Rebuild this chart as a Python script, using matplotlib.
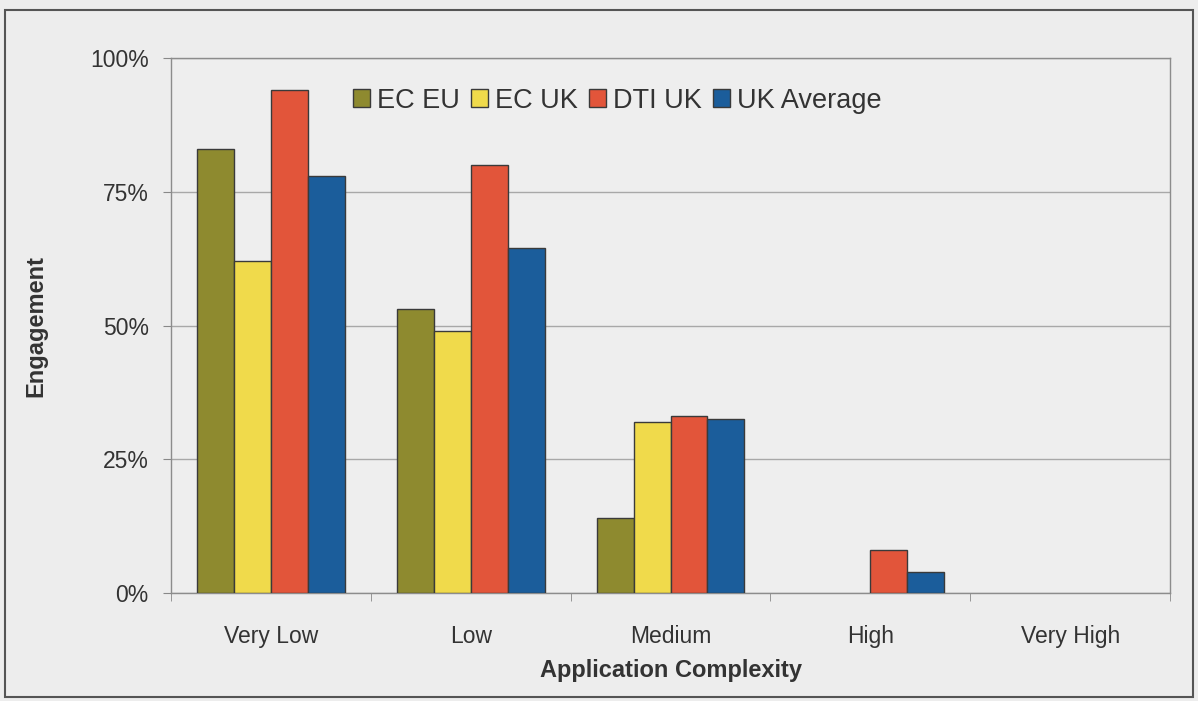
import numpy as np
import matplotlib.pyplot as plt
from matplotlib.patches import Rectangle
from matplotlib.ticker import FuncFormatter

plt.rcParams['font.family'] = ['Liberation Sans', 'DejaVu Sans']

# Engagement by application complexity (percent)
categories = ['Very Low', 'Low', 'Medium', 'High', 'Very High']
ec_eu = [83, 53, 14, 0, 0]
ec_uk = [62, 49, 32, 0, 0]
dti_uk = [94, 80, 33, 8, 0]
uk_avg = [78, 64.5, 32.5, 4, 0]

series = [('EC EU', ec_eu, '#8e8a2f'),
          ('EC UK', ec_uk, '#f0da4b'),
          ('DTI UK', dti_uk, '#e2553a'),
          ('UK Average', uk_avg, '#1b5d9b')]

fig = plt.figure(figsize=(11.98, 7.01), dpi=100, facecolor='#ededed')
ax = fig.add_axes([0.1427, 0.154, 0.834, 0.7633], facecolor='#eeeeee')

x = np.arange(len(categories))
w = 0.185
for i, (name, vals, col) in enumerate(series):
    vals = np.array(vals, dtype=float)
    ax.bar(x + (i - 1.5) * w, np.where(vals > 0, vals, np.nan), w, color=col,
           edgecolor='#3a3a3a', linewidth=1.0, label=name, zorder=3)

ax.set_xlim(-0.5, len(categories) - 0.5)
ax.set_ylim(0, 100)
ax.set_yticks([0, 25, 50, 75, 100])
ax.yaxis.set_major_formatter(FuncFormatter(lambda v, p: f'{v:.0f}%'))
ax.set_xticks(x)
ax.set_xticklabels(categories)
ax.set_xticks(np.arange(len(categories) + 1) - 0.5, minor=True)
ax.tick_params(axis='x', which='major', length=0, pad=23, labelsize=16.5, labelcolor='#333333')
ax.tick_params(axis='x', which='minor', length=6, color='#888888', direction='out')
ax.tick_params(axis='y', length=6, color='#888888', labelsize=16.5, labelcolor='#333333', pad=10)

ax.grid(axis='y', color='#a8a8a8', linewidth=1.0, zorder=0)
for s in ax.spines.values():
    s.set_color('#8c8c8c')
    s.set_linewidth(1.0)

ax.set_xlabel('Application Complexity', fontsize=17, fontweight='bold', color='#333333', labelpad=8)
ax.set_ylabel('Engagement', fontsize=17, fontweight='bold', color='#333333', labelpad=31)

ax.legend(loc='upper left', bbox_to_anchor=(0.171, 0.965), ncol=4, frameon=False,
          fontsize=19.5, handlelength=0.65, handleheight=0.65, handletextpad=0.25,
          columnspacing=0.4, labelcolor='#333333', borderaxespad=0)

# outer chart frame
fig.patches.append(Rectangle((0.004, 0.006), 0.992, 0.98, transform=fig.transFigure,
                             fill=False, edgecolor='#555555', linewidth=1.5))

fig.savefig('out.png', dpi=100, facecolor=fig.get_facecolor())
